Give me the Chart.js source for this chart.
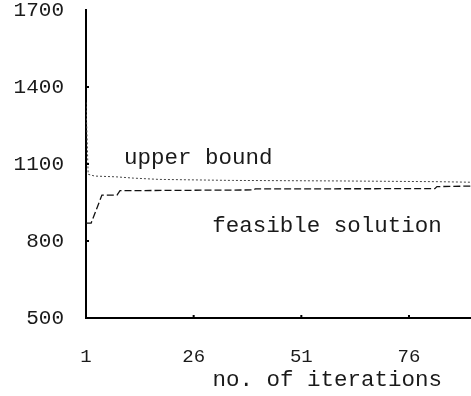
<!DOCTYPE html>
<html>
<head>
<meta charset="utf-8">
<script src="https://cdn.jsdelivr.net/npm/chart.js@4/dist/chart.umd.min.js"></script>
<style>
    html, body { margin: 0; padding: 0; background: #fff; }
    #wrap { width: 471px; height: 396px; }
</style>
</head>
<body>
<div id="wrap"><canvas id="iterChart"></canvas></div>
<script>
// values
const upperIter = [1, 1.5, 3, 8, 12, 18, 35, 60, 83, 90.4];
const upperVals = [1340, 1060, 1053, 1050, 1045, 1040, 1036, 1034, 1031, 1029];
const feasIter = [1, 2.2, 4.7, 8.2, 8.9, 40, 40.3, 82, 82.5, 90.4];
const feasVals = [870, 870, 979, 979, 996, 999, 1003, 1004, 1012, 1014];
const xTicks = [1, 26, 51, 76];
const yTicks = [500, 800, 1100, 1400, 1700];

const FONT = '"Courier New", "Liberation Mono", monospace';

function toPoints(xs, ys) {
    return xs.map((x, i) => ({ x: x, y: ys[i] }));
}

// text labels placed in data coordinates, plus small inward tick marks
const labelPlugin = {
    id: 'labels',
    afterDraw(chart) {
        const ctx = chart.ctx;
        const xs = chart.scales.x;
        const ys = chart.scales.y;
        const area = chart.chartArea;
        ctx.save();
        ctx.strokeStyle = '#000';
        ctx.lineWidth = 2;
        ctx.beginPath();
        xTicks.slice(1).forEach(v => {
            const px = xs.getPixelForValue(v);
            ctx.moveTo(px, area.bottom);
            ctx.lineTo(px, area.bottom - 3);
        });
        yTicks.slice(1, -1).forEach(v => {
            const py = ys.getPixelForValue(v);
            ctx.moveTo(area.left, py);
            ctx.lineTo(area.left + 3, py);
        });
        ctx.stroke();

        ctx.fillStyle = '#1a1a1a';
        ctx.font = '22.5px ' + FONT;
        ctx.textBaseline = 'middle';
        ctx.textAlign = 'left';
        ctx.fillText('upper bound', xs.getPixelForValue(9.8), ys.getPixelForValue(1123));
        ctx.fillText('feasible solution', xs.getPixelForValue(30.3), ys.getPixelForValue(858));
        ctx.textAlign = 'center';
        ctx.fillText('no. of iterations', xs.getPixelForValue(57), 380);
        ctx.restore();
    }
};

new Chart(document.getElementById('iterChart'), {
    type: 'line',
    data: {
        datasets: [{
            label: 'upper bound',
            data: toPoints(upperIter, upperVals),
            borderColor: '#444',
            borderWidth: 1,
            borderDash: [2, 2],
            pointRadius: 0,
            tension: 0,
        }, {
            label: 'feasible solution',
            data: toPoints(feasIter, feasVals),
            borderColor: '#111',
            borderWidth: 1.3,
            borderDash: [7, 3],
            pointRadius: 0,
            tension: 0,
        }],
    },
    options: {
        responsive: true,
        maintainAspectRatio: false,
        animation: false,
        layout: { padding: { top: 10, right: 0, left: 0, bottom: 0 } },
        plugins: {
            legend: { display: false },
            tooltip: { enabled: false },
        },
        scales: {
            x: {
                type: 'linear',
                min: 1,
                max: 90.4,
                afterBuildTicks: scale => { scale.ticks = xTicks.map(v => ({ value: v })); },
                afterFit: scale => { scale.height = 78; scale.paddingLeft = 0; scale.paddingRight = 0; },
                grid: { display: false, drawTicks: false },
                border: { color: '#000', width: 2 },
                ticks: {
                    color: '#1a1a1a',
                    padding: 28,
                    maxRotation: 0,
                    font: { family: FONT, size: 19 },
                },
            },
            y: {
                min: 500,
                max: 1700,
                afterBuildTicks: scale => { scale.ticks = yTicks.map(v => ({ value: v })); },
                afterFit: scale => { scale.width = 86; scale.paddingTop = 0; scale.paddingBottom = 0; },
                grid: { display: false, drawTicks: false },
                border: { color: '#000', width: 2 },
                ticks: {
                    color: '#1a1a1a',
                    padding: 22,
                    font: { family: FONT, size: 21 },
                    callback: v => String(v),
                },
            },
        },
    },
    plugins: [labelPlugin],
});
</script>
</body>
</html>
